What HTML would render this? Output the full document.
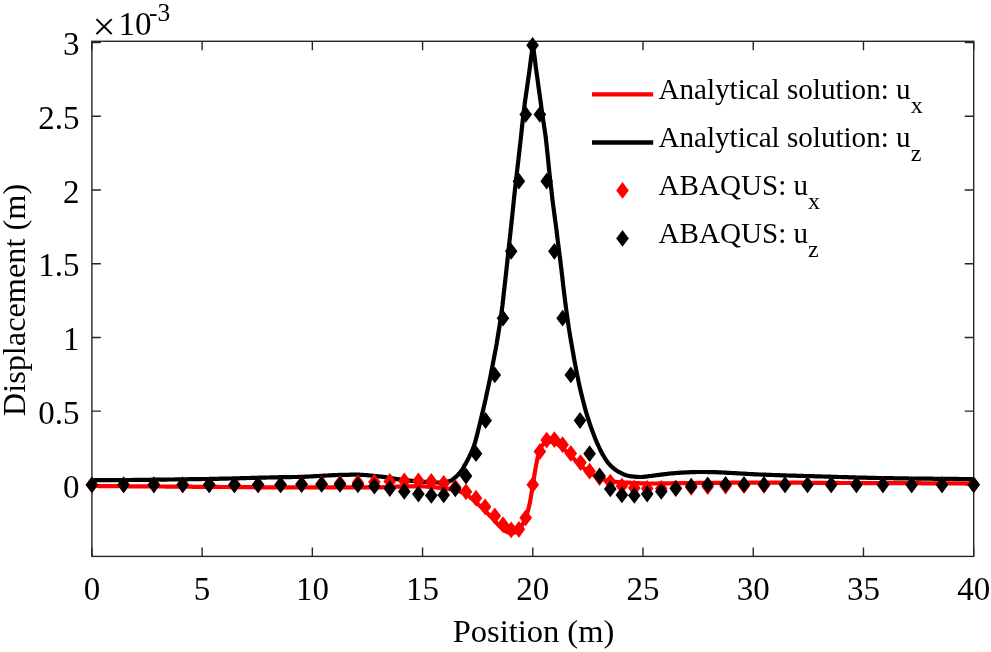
<!DOCTYPE html>
<html><head><meta charset="utf-8"><title>Displacement vs Position</title>
<style>
html,body{margin:0;padding:0;background:#fff;}
svg{display:block;}
text{font-family:"Liberation Serif",serif;fill:#000;}
</style></head><body>
<svg width="991" height="652" viewBox="0 0 991 652">
<rect width="991" height="652" fill="#fff"/>
<g fill="none" stroke="#262626" stroke-width="1.4">
<rect x="91.9" y="41.3" width="881.8" height="515.1"/>
<path d="M91.90,556.4v-9M91.90,41.3v9M202.12,556.4v-9M202.12,41.3v9M312.35,556.4v-9M312.35,41.3v9M422.58,556.4v-9M422.58,41.3v9M532.80,556.4v-9M532.80,41.3v9M643.02,556.4v-9M643.02,41.3v9M753.25,556.4v-9M753.25,41.3v9M863.48,556.4v-9M863.48,41.3v9M973.70,556.4v-9M973.70,41.3v9M91.9,484.90h9M973.7,484.90h-9M91.9,411.17h9M973.7,411.17h-9M91.9,337.45h9M973.7,337.45h-9M91.9,263.73h9M973.7,263.73h-9M91.9,190.00h9M973.7,190.00h-9M91.9,116.27h9M973.7,116.27h-9M91.9,42.55h9M973.7,42.55h-9"/>
</g>
<g font-size="33px"><text x="91.9" y="599.5" text-anchor="middle">0</text><text x="202.1" y="599.5" text-anchor="middle">5</text><text x="312.4" y="599.5" text-anchor="middle">10</text><text x="422.6" y="599.5" text-anchor="middle">15</text><text x="532.8" y="599.5" text-anchor="middle">20</text><text x="643.0" y="599.5" text-anchor="middle">25</text><text x="753.3" y="599.5" text-anchor="middle">30</text><text x="863.5" y="599.5" text-anchor="middle">35</text><text x="973.7" y="599.5" text-anchor="middle">40</text><text x="79.4" y="497.5" text-anchor="end">0</text><text x="79.4" y="423.8" text-anchor="end">0.5</text><text x="79.4" y="350.1" text-anchor="end">1</text><text x="79.4" y="276.3" text-anchor="end">1.5</text><text x="79.4" y="202.6" text-anchor="end">2</text><text x="79.4" y="128.9" text-anchor="end">2.5</text><text x="79.4" y="55.2" text-anchor="end">3</text></g>
<text x="92.4" y="40" font-size="41px">×</text>
<text x="118.4" y="34.8" font-size="33px">10<tspan dx="-2.3" dy="-14.3" font-size="25.5px">-3</tspan></text>
<text x="533.5" y="642.3" font-size="32.5px" text-anchor="middle">Position (m)</text>
<text transform="translate(24.7,300) rotate(-90)" font-size="32.3px" text-anchor="middle">Displacement (m)</text>
<clipPath id="ax"><rect x="91.9" y="41.3" width="881.8" height="515.1"/></clipPath>
<path clip-path="url(#ax)" d="M91.9,486.0 L92.9,486.0 L93.9,486.0 L94.8,486.0 L95.8,486.0 L96.8,486.0 L97.8,486.0 L98.8,486.1 L99.7,486.1 L100.7,486.1 L101.7,486.1 L102.7,486.1 L103.7,486.1 L104.7,486.1 L105.6,486.1 L106.6,486.1 L107.6,486.1 L108.6,486.1 L109.6,486.1 L110.5,486.1 L111.5,486.2 L112.5,486.2 L113.5,486.2 L114.5,486.2 L115.4,486.2 L116.4,486.2 L117.4,486.2 L118.4,486.2 L119.4,486.2 L120.3,486.2 L121.3,486.2 L122.3,486.2 L123.3,486.2 L124.3,486.2 L125.2,486.3 L126.2,486.3 L127.2,486.3 L128.2,486.3 L129.2,486.3 L130.2,486.3 L131.1,486.3 L132.1,486.3 L133.1,486.3 L134.1,486.3 L135.1,486.3 L136.0,486.3 L137.0,486.3 L138.0,486.4 L139.0,486.4 L140.0,486.4 L140.9,486.4 L141.9,486.4 L142.9,486.4 L143.9,486.4 L144.9,486.4 L145.8,486.4 L146.8,486.4 L147.8,486.4 L148.8,486.4 L149.8,486.4 L150.8,486.4 L151.7,486.5 L152.7,486.5 L153.7,486.5 L154.7,486.5 L155.7,486.5 L156.6,486.5 L157.6,486.5 L158.6,486.5 L159.6,486.5 L160.6,486.5 L161.5,486.5 L162.5,486.5 L163.5,486.5 L164.5,486.5 L165.5,486.6 L166.4,486.6 L167.4,486.6 L168.4,486.6 L169.4,486.6 L170.4,486.6 L171.4,486.6 L172.3,486.6 L173.3,486.6 L174.3,486.6 L175.3,486.6 L176.3,486.6 L177.2,486.6 L178.2,486.6 L179.2,486.7 L180.2,486.7 L181.2,486.7 L182.1,486.7 L183.1,486.7 L184.1,486.7 L185.1,486.7 L186.1,486.7 L187.0,486.7 L188.0,486.7 L189.0,486.7 L190.0,486.7 L191.0,486.7 L191.9,486.7 L192.9,486.8 L193.9,486.8 L194.9,486.8 L195.9,486.8 L196.9,486.8 L197.8,486.8 L198.8,486.8 L199.8,486.8 L200.8,486.8 L201.8,486.8 L202.7,486.8 L203.7,486.8 L204.7,486.8 L205.7,486.8 L206.7,486.8 L207.6,486.9 L208.6,486.9 L209.6,486.9 L210.6,486.9 L211.6,486.9 L212.5,486.9 L213.5,486.9 L214.5,486.9 L215.5,486.9 L216.5,486.9 L217.5,486.9 L218.4,486.9 L219.4,487.0 L220.4,487.0 L221.4,487.0 L222.4,487.0 L223.3,487.0 L224.3,487.0 L225.3,487.0 L226.3,487.0 L227.3,487.0 L228.2,487.0 L229.2,487.0 L230.2,487.1 L231.2,487.1 L232.2,487.1 L233.1,487.1 L234.1,487.1 L235.1,487.1 L236.1,487.1 L237.1,487.1 L238.0,487.1 L239.0,487.1 L240.0,487.1 L241.0,487.1 L242.0,487.2 L243.0,487.2 L243.9,487.2 L244.9,487.2 L245.9,487.2 L246.9,487.2 L247.9,487.2 L248.8,487.2 L249.8,487.2 L250.8,487.2 L251.8,487.2 L252.8,487.2 L253.7,487.2 L254.7,487.3 L255.7,487.3 L256.7,487.3 L257.7,487.3 L258.6,487.3 L259.6,487.3 L260.6,487.3 L261.6,487.3 L262.6,487.3 L263.6,487.3 L264.5,487.3 L265.5,487.3 L266.5,487.3 L267.5,487.3 L268.5,487.3 L269.4,487.3 L270.4,487.4 L271.4,487.4 L272.4,487.4 L273.4,487.4 L274.3,487.4 L275.3,487.4 L276.3,487.4 L277.3,487.4 L278.3,487.4 L279.2,487.4 L280.2,487.4 L281.2,487.4 L282.2,487.4 L283.2,487.4 L284.2,487.4 L285.1,487.4 L286.1,487.4 L287.1,487.4 L288.1,487.4 L289.1,487.4 L290.0,487.4 L291.0,487.4 L292.0,487.4 L293.0,487.4 L294.0,487.4 L294.9,487.4 L295.9,487.4 L296.9,487.4 L297.9,487.4 L298.9,487.4 L299.8,487.4 L300.8,487.4 L301.8,487.4 L302.8,487.4 L303.8,487.4 L304.7,487.4 L305.7,487.4 L306.7,487.4 L307.7,487.4 L308.7,487.4 L309.7,487.4 L310.6,487.4 L311.6,487.4 L312.6,487.4 L313.6,487.4 L314.6,487.4 L315.5,487.4 L316.5,487.4 L317.5,487.4 L318.5,487.4 L319.5,487.4 L320.4,487.4 L321.4,487.4 L322.4,487.4 L323.4,487.4 L324.4,487.4 L325.3,487.4 L326.3,487.4 L327.3,487.4 L328.3,487.4 L329.3,487.4 L330.3,487.4 L331.2,487.4 L332.2,487.4 L333.2,487.4 L334.2,487.4 L335.2,487.4 L336.1,487.4 L337.1,487.4 L338.1,487.4 L339.1,487.4 L340.1,487.4 L341.0,487.4 L342.0,487.4 L343.0,487.4 L344.0,487.4 L345.0,487.4 L345.9,487.4 L346.9,487.4 L347.9,487.4 L348.9,487.4 L349.9,487.4 L350.8,487.4 L351.8,487.4 L352.8,487.4 L353.8,487.4 L354.8,487.4 L355.8,487.4 L356.7,487.4 L357.7,487.4 L358.7,487.4 L359.7,487.4 L360.7,487.4 L361.6,487.4 L362.6,487.4 L363.6,487.4 L364.6,487.4 L365.6,487.4 L366.5,487.4 L367.5,487.4 L368.5,487.4 L369.5,487.4 L370.5,487.4 L371.4,487.4 L372.4,487.4 L373.4,487.4 L374.4,487.4 L375.4,487.4 L376.4,487.4 L377.3,487.4 L378.3,487.4 L379.3,487.3 L380.3,487.3 L381.3,487.3 L382.2,487.3 L383.2,487.2 L384.2,487.2 L385.2,487.2 L386.2,487.1 L387.1,487.1 L388.1,487.0 L389.1,487.0 L390.1,487.0 L391.1,486.9 L392.0,486.9 L393.0,486.8 L394.0,486.8 L395.0,486.8 L396.0,486.7 L396.9,486.7 L397.9,486.7 L398.9,486.6 L399.9,486.6 L400.9,486.6 L401.9,486.5 L402.8,486.5 L403.8,486.5 L404.8,486.5 L405.8,486.5 L406.8,486.5 L407.7,486.4 L408.7,486.4 L409.7,486.4 L410.7,486.4 L411.7,486.4 L412.6,486.4 L413.6,486.3 L414.6,486.3 L415.6,486.3 L416.6,486.3 L417.5,486.3 L418.5,486.3 L419.5,486.3 L420.5,486.3 L421.5,486.3 L422.5,486.4 L423.4,486.4 L424.4,486.5 L425.4,486.5 L426.4,486.6 L427.4,486.7 L428.3,486.8 L429.3,486.9 L430.3,486.9 L431.3,487.0 L432.3,487.1 L433.2,487.2 L434.2,487.3 L435.2,487.4 L436.2,487.5 L437.2,487.6 L438.1,487.7 L439.1,487.8 L440.1,487.9 L441.1,488.0 L442.1,488.1 L443.1,488.2 L444.0,488.3 L445.0,488.4 L446.0,488.6 L447.0,488.7 L448.0,488.8 L448.9,488.9 L449.9,489.1 L450.9,489.2 L451.9,489.4 L452.9,489.6 L453.8,489.8 L454.8,490.0 L455.8,490.2 L456.8,490.5 L457.8,490.8 L458.7,491.1 L459.7,491.5 L460.7,491.9 L461.7,492.3 L462.7,492.8 L463.6,493.2 L464.6,493.7 L465.6,494.3 L466.6,494.9 L467.6,495.5 L468.6,496.2 L469.5,496.9 L470.5,497.7 L471.5,498.5 L472.5,499.2 L473.5,500.0 L474.4,500.8 L475.4,501.7 L476.4,502.5 L477.4,503.4 L478.4,504.4 L479.3,505.3 L480.3,506.3 L481.3,507.2 L482.3,508.2 L483.3,509.2 L484.2,510.1 L485.2,511.1 L486.2,512.0 L487.2,513.0 L488.2,514.0 L489.2,515.0 L490.1,516.0 L491.1,517.0 L492.1,518.0 L493.1,519.0 L494.1,520.1 L495.0,521.2 L496.0,522.3 L497.0,523.4 L498.0,524.5 L499.0,525.5 L499.9,526.5 L500.9,527.4 L501.9,528.3 L502.9,529.2 L503.9,530.1 L504.8,530.8 L505.8,531.4 L506.8,531.9 L507.8,532.3 L508.8,532.7 L509.7,533.0 L510.7,533.2 L511.7,533.2 L512.7,533.1 L513.7,532.8 L514.7,532.5 L515.6,532.1 L516.6,531.7 L517.6,531.0 L518.6,530.2 L519.6,529.2 L520.5,527.8 L521.5,526.2 L522.5,524.4 L523.5,522.6 L524.5,520.6 L525.4,518.4 L526.4,515.8 L527.4,512.7 L528.4,509.2 L529.4,505.1 L530.3,500.3 L531.3,494.5 L532.3,488.4 L533.3,482.2 L534.3,475.6 L535.3,469.7 L536.2,464.6 L537.2,459.7 L538.2,455.4 L539.2,452.1 L540.2,449.7 L541.1,447.5 L542.1,445.6 L543.1,444.3 L544.1,443.5 L545.1,443.0 L546.0,442.5 L547.0,442.2 L548.0,442.0 L549.0,441.8 L550.0,441.8 L550.9,441.9 L551.9,442.0 L552.9,442.2 L553.9,442.5 L554.9,442.8 L555.9,443.2 L556.8,443.8 L557.8,444.4 L558.8,445.2 L559.8,445.9 L560.8,446.7 L561.7,447.5 L562.7,448.2 L563.7,449.0 L564.7,449.9 L565.7,450.8 L566.6,451.8 L567.6,452.7 L568.6,453.7 L569.6,454.6 L570.6,455.6 L571.5,456.5 L572.5,457.5 L573.5,458.5 L574.5,459.5 L575.5,460.5 L576.4,461.5 L577.4,462.4 L578.4,463.4 L579.4,464.3 L580.4,465.1 L581.4,466.0 L582.3,466.9 L583.3,467.7 L584.3,468.5 L585.3,469.3 L586.3,470.1 L587.2,470.8 L588.2,471.5 L589.2,472.2 L590.2,472.9 L591.2,473.5 L592.1,474.2 L593.1,474.8 L594.1,475.4 L595.1,476.0 L596.1,476.5 L597.0,477.0 L598.0,477.5 L599.0,477.9 L600.0,478.3 L601.0,478.7 L602.0,479.0 L602.9,479.4 L603.9,479.7 L604.9,480.0 L605.9,480.3 L606.9,480.6 L607.8,480.8 L608.8,481.0 L609.8,481.2 L610.8,481.3 L611.8,481.5 L612.7,481.6 L613.7,481.7 L614.7,481.8 L615.7,481.9 L616.7,482.0 L617.6,482.0 L618.6,482.1 L619.6,482.2 L620.6,482.2 L621.6,482.3 L622.5,482.4 L623.5,482.4 L624.5,482.5 L625.5,482.5 L626.5,482.6 L627.5,482.6 L628.4,482.7 L629.4,482.7 L630.4,482.8 L631.4,482.9 L632.4,482.9 L633.3,483.0 L634.3,483.0 L635.3,483.1 L636.3,483.1 L637.3,483.2 L638.2,483.2 L639.2,483.2 L640.2,483.3 L641.2,483.3 L642.2,483.4 L643.1,483.4 L644.1,483.4 L645.1,483.4 L646.1,483.5 L647.1,483.5 L648.1,483.5 L649.0,483.5 L650.0,483.5 L651.0,483.5 L652.0,483.5 L653.0,483.5 L653.9,483.5 L654.9,483.5 L655.9,483.5 L656.9,483.5 L657.9,483.5 L658.8,483.4 L659.8,483.4 L660.8,483.4 L661.8,483.4 L662.8,483.4 L663.7,483.4 L664.7,483.4 L665.7,483.4 L666.7,483.3 L667.7,483.3 L668.7,483.3 L669.6,483.3 L670.6,483.3 L671.6,483.3 L672.6,483.2 L673.6,483.2 L674.5,483.2 L675.5,483.2 L676.5,483.2 L677.5,483.2 L678.5,483.1 L679.4,483.1 L680.4,483.1 L681.4,483.1 L682.4,483.1 L683.4,483.1 L684.3,483.1 L685.3,483.0 L686.3,483.0 L687.3,483.0 L688.3,483.0 L689.2,483.0 L690.2,483.0 L691.2,483.0 L692.2,483.0 L693.2,483.0 L694.2,483.0 L695.1,483.0 L696.1,483.0 L697.1,482.9 L698.1,482.9 L699.1,482.9 L700.0,482.9 L701.0,482.9 L702.0,482.9 L703.0,482.9 L704.0,482.9 L704.9,482.9 L705.9,482.9 L706.9,482.9 L707.9,482.9 L708.9,482.8 L709.8,482.8 L710.8,482.8 L711.8,482.8 L712.8,482.8 L713.8,482.8 L714.8,482.8 L715.7,482.8 L716.7,482.8 L717.7,482.8 L718.7,482.8 L719.7,482.8 L720.6,482.8 L721.6,482.8 L722.6,482.7 L723.6,482.7 L724.6,482.7 L725.5,482.7 L726.5,482.7 L727.5,482.7 L728.5,482.7 L729.5,482.7 L730.4,482.7 L731.4,482.7 L732.4,482.7 L733.4,482.7 L734.4,482.7 L735.3,482.7 L736.3,482.7 L737.3,482.7 L738.3,482.7 L739.3,482.6 L740.3,482.6 L741.2,482.6 L742.2,482.6 L743.2,482.6 L744.2,482.6 L745.2,482.6 L746.1,482.6 L747.1,482.6 L748.1,482.6 L749.1,482.6 L750.1,482.6 L751.0,482.6 L752.0,482.6 L753.0,482.6 L754.0,482.6 L755.0,482.6 L755.9,482.6 L756.9,482.6 L757.9,482.6 L758.9,482.6 L759.9,482.6 L760.9,482.6 L761.8,482.6 L762.8,482.6 L763.8,482.6 L764.8,482.6 L765.8,482.6 L766.7,482.6 L767.7,482.6 L768.7,482.6 L769.7,482.6 L770.7,482.6 L771.6,482.6 L772.6,482.6 L773.6,482.6 L774.6,482.6 L775.6,482.6 L776.5,482.6 L777.5,482.6 L778.5,482.6 L779.5,482.6 L780.5,482.6 L781.4,482.6 L782.4,482.6 L783.4,482.7 L784.4,482.7 L785.4,482.7 L786.4,482.7 L787.3,482.7 L788.3,482.7 L789.3,482.7 L790.3,482.7 L791.3,482.7 L792.2,482.7 L793.2,482.7 L794.2,482.7 L795.2,482.7 L796.2,482.7 L797.1,482.7 L798.1,482.7 L799.1,482.7 L800.1,482.7 L801.1,482.7 L802.0,482.7 L803.0,482.7 L804.0,482.8 L805.0,482.8 L806.0,482.8 L807.0,482.8 L807.9,482.8 L808.9,482.8 L809.9,482.8 L810.9,482.8 L811.9,482.8 L812.8,482.8 L813.8,482.8 L814.8,482.8 L815.8,482.8 L816.8,482.8 L817.7,482.8 L818.7,482.8 L819.7,482.8 L820.7,482.9 L821.7,482.9 L822.6,482.9 L823.6,482.9 L824.6,482.9 L825.6,482.9 L826.6,482.9 L827.6,482.9 L828.5,482.9 L829.5,482.9 L830.5,482.9 L831.5,482.9 L832.5,482.9 L833.4,482.9 L834.4,482.9 L835.4,482.9 L836.4,482.9 L837.4,482.9 L838.3,482.9 L839.3,483.0 L840.3,483.0 L841.3,483.0 L842.3,483.0 L843.2,483.0 L844.2,483.0 L845.2,483.0 L846.2,483.0 L847.2,483.0 L848.1,483.0 L849.1,483.0 L850.1,483.0 L851.1,483.0 L852.1,483.0 L853.1,483.0 L854.0,483.0 L855.0,483.0 L856.0,483.0 L857.0,483.0 L858.0,483.0 L858.9,483.0 L859.9,483.0 L860.9,483.0 L861.9,483.0 L862.9,483.0 L863.8,483.1 L864.8,483.1 L865.8,483.1 L866.8,483.1 L867.8,483.1 L868.7,483.1 L869.7,483.1 L870.7,483.1 L871.7,483.1 L872.7,483.1 L873.7,483.1 L874.6,483.1 L875.6,483.1 L876.6,483.1 L877.6,483.1 L878.6,483.1 L879.5,483.1 L880.5,483.1 L881.5,483.1 L882.5,483.1 L883.5,483.1 L884.4,483.1 L885.4,483.1 L886.4,483.1 L887.4,483.1 L888.4,483.1 L889.3,483.1 L890.3,483.1 L891.3,483.1 L892.3,483.2 L893.3,483.2 L894.2,483.2 L895.2,483.2 L896.2,483.2 L897.2,483.2 L898.2,483.2 L899.2,483.2 L900.1,483.2 L901.1,483.2 L902.1,483.2 L903.1,483.2 L904.1,483.2 L905.0,483.2 L906.0,483.2 L907.0,483.2 L908.0,483.2 L909.0,483.2 L909.9,483.2 L910.9,483.2 L911.9,483.2 L912.9,483.2 L913.9,483.2 L914.8,483.2 L915.8,483.2 L916.8,483.2 L917.8,483.2 L918.8,483.2 L919.8,483.2 L920.7,483.2 L921.7,483.3 L922.7,483.3 L923.7,483.3 L924.7,483.3 L925.6,483.3 L926.6,483.3 L927.6,483.3 L928.6,483.3 L929.6,483.3 L930.5,483.3 L931.5,483.3 L932.5,483.3 L933.5,483.3 L934.5,483.3 L935.4,483.3 L936.4,483.3 L937.4,483.3 L938.4,483.3 L939.4,483.3 L940.4,483.3 L941.3,483.3 L942.3,483.3 L943.3,483.3 L944.3,483.3 L945.3,483.3 L946.2,483.3 L947.2,483.3 L948.2,483.3 L949.2,483.3 L950.2,483.3 L951.1,483.3 L952.1,483.3 L953.1,483.3 L954.1,483.3 L955.1,483.4 L956.0,483.4 L957.0,483.4 L958.0,483.4 L959.0,483.4 L960.0,483.4 L960.9,483.4 L961.9,483.4 L962.9,483.4 L963.9,483.4 L964.9,483.4 L965.9,483.4 L966.8,483.4 L967.8,483.4 L968.8,483.4 L969.8,483.4 L970.8,483.4 L971.7,483.4 L972.7,483.4 L973.7,483.4" fill="none" stroke="#ff0000" stroke-width="4.2" stroke-linejoin="round"/>
<path clip-path="url(#ax)" d="M91.9,480.2 L92.9,480.2 L93.9,480.2 L94.8,480.2 L95.8,480.2 L96.8,480.2 L97.8,480.2 L98.8,480.2 L99.8,480.2 L100.7,480.2 L101.7,480.2 L102.7,480.2 L103.7,480.2 L104.7,480.2 L105.7,480.1 L106.6,480.1 L107.6,480.1 L108.6,480.1 L109.6,480.1 L110.6,480.1 L111.5,480.1 L112.5,480.1 L113.5,480.1 L114.5,480.1 L115.5,480.1 L116.5,480.1 L117.4,480.1 L118.4,480.1 L119.4,480.1 L120.4,480.1 L121.4,480.0 L122.3,480.0 L123.3,480.0 L124.3,480.0 L125.3,480.0 L126.3,480.0 L127.3,480.0 L128.2,480.0 L129.2,480.0 L130.2,480.0 L131.2,480.0 L132.2,480.0 L133.2,479.9 L134.1,479.9 L135.1,479.9 L136.1,479.9 L137.1,479.9 L138.1,479.9 L139.0,479.9 L140.0,479.9 L141.0,479.9 L142.0,479.9 L143.0,479.8 L144.0,479.8 L144.9,479.8 L145.9,479.8 L146.9,479.8 L147.9,479.8 L148.9,479.8 L149.8,479.8 L150.8,479.8 L151.8,479.7 L152.8,479.7 L153.8,479.7 L154.8,479.7 L155.7,479.7 L156.7,479.7 L157.7,479.7 L158.7,479.7 L159.7,479.6 L160.7,479.6 L161.6,479.6 L162.6,479.6 L163.6,479.6 L164.6,479.6 L165.6,479.6 L166.5,479.6 L167.5,479.5 L168.5,479.5 L169.5,479.5 L170.5,479.5 L171.5,479.5 L172.4,479.5 L173.4,479.5 L174.4,479.5 L175.4,479.4 L176.4,479.4 L177.3,479.4 L178.3,479.4 L179.3,479.4 L180.3,479.4 L181.3,479.4 L182.3,479.3 L183.2,479.3 L184.2,479.3 L185.2,479.3 L186.2,479.3 L187.2,479.3 L188.2,479.3 L189.1,479.2 L190.1,479.2 L191.1,479.2 L192.1,479.2 L193.1,479.2 L194.0,479.2 L195.0,479.2 L196.0,479.1 L197.0,479.1 L198.0,479.1 L199.0,479.1 L199.9,479.1 L200.9,479.1 L201.9,479.1 L202.9,479.0 L203.9,479.0 L204.9,479.0 L205.8,479.0 L206.8,479.0 L207.8,479.0 L208.8,479.0 L209.8,478.9 L210.7,478.9 L211.7,478.9 L212.7,478.9 L213.7,478.9 L214.7,478.8 L215.7,478.8 L216.6,478.8 L217.6,478.8 L218.6,478.8 L219.6,478.7 L220.6,478.7 L221.5,478.7 L222.5,478.7 L223.5,478.7 L224.5,478.6 L225.5,478.6 L226.5,478.6 L227.4,478.6 L228.4,478.5 L229.4,478.5 L230.4,478.5 L231.4,478.5 L232.4,478.4 L233.3,478.4 L234.3,478.4 L235.3,478.4 L236.3,478.3 L237.3,478.3 L238.2,478.3 L239.2,478.3 L240.2,478.2 L241.2,478.2 L242.2,478.2 L243.2,478.2 L244.1,478.1 L245.1,478.1 L246.1,478.1 L247.1,478.0 L248.1,478.0 L249.0,478.0 L250.0,478.0 L251.0,477.9 L252.0,477.9 L253.0,477.9 L254.0,477.9 L254.9,477.8 L255.9,477.8 L256.9,477.8 L257.9,477.8 L258.9,477.7 L259.9,477.7 L260.8,477.7 L261.8,477.7 L262.8,477.6 L263.8,477.6 L264.8,477.6 L265.7,477.6 L266.7,477.5 L267.7,477.5 L268.7,477.5 L269.7,477.5 L270.7,477.4 L271.6,477.4 L272.6,477.4 L273.6,477.4 L274.6,477.3 L275.6,477.3 L276.6,477.3 L277.5,477.3 L278.5,477.3 L279.5,477.2 L280.5,477.2 L281.5,477.2 L282.4,477.2 L283.4,477.2 L284.4,477.2 L285.4,477.1 L286.4,477.1 L287.4,477.1 L288.3,477.1 L289.3,477.1 L290.3,477.1 L291.3,477.1 L292.3,477.0 L293.2,477.0 L294.2,477.0 L295.2,477.0 L296.2,477.0 L297.2,477.0 L298.2,476.9 L299.1,476.9 L300.1,476.9 L301.1,476.9 L302.1,476.8 L303.1,476.8 L304.1,476.8 L305.0,476.7 L306.0,476.7 L307.0,476.6 L308.0,476.6 L309.0,476.5 L309.9,476.5 L310.9,476.4 L311.9,476.4 L312.9,476.3 L313.9,476.2 L314.9,476.2 L315.8,476.1 L316.8,476.1 L317.8,476.0 L318.8,476.0 L319.8,475.9 L320.7,475.9 L321.7,475.8 L322.7,475.8 L323.7,475.7 L324.7,475.7 L325.7,475.6 L326.6,475.5 L327.6,475.5 L328.6,475.4 L329.6,475.4 L330.6,475.3 L331.6,475.3 L332.5,475.2 L333.5,475.2 L334.5,475.1 L335.5,475.1 L336.5,475.0 L337.4,475.0 L338.4,474.9 L339.4,474.9 L340.4,474.9 L341.4,474.9 L342.4,474.9 L343.3,474.8 L344.3,474.8 L345.3,474.8 L346.3,474.8 L347.3,474.8 L348.2,474.8 L349.2,474.8 L350.2,474.7 L351.2,474.7 L352.2,474.7 L353.2,474.7 L354.1,474.7 L355.1,474.7 L356.1,474.7 L357.1,474.7 L358.1,474.7 L359.1,474.7 L360.0,474.8 L361.0,474.8 L362.0,474.8 L363.0,474.9 L364.0,475.0 L364.9,475.0 L365.9,475.1 L366.9,475.2 L367.9,475.3 L368.9,475.4 L369.9,475.5 L370.8,475.6 L371.8,475.7 L372.8,475.8 L373.8,475.9 L374.8,476.0 L375.8,476.1 L376.7,476.2 L377.7,476.3 L378.7,476.4 L379.7,476.5 L380.7,476.6 L381.6,476.7 L382.6,476.8 L383.6,476.9 L384.6,477.1 L385.6,477.2 L386.6,477.4 L387.5,477.5 L388.5,477.7 L389.5,477.8 L390.5,478.0 L391.5,478.2 L392.4,478.3 L393.4,478.5 L394.4,478.7 L395.4,478.8 L396.4,479.0 L397.4,479.1 L398.3,479.3 L399.3,479.4 L400.3,479.5 L401.3,479.6 L402.3,479.8 L403.3,479.9 L404.2,480.0 L405.2,480.1 L406.2,480.2 L407.2,480.3 L408.2,480.4 L409.1,480.5 L410.1,480.6 L411.1,480.8 L412.1,480.8 L413.1,480.9 L414.1,481.0 L415.0,481.1 L416.0,481.2 L417.0,481.3 L418.0,481.4 L419.0,481.5 L419.9,481.5 L420.9,481.6 L421.9,481.7 L422.9,481.7 L423.9,481.8 L424.9,481.9 L425.8,481.9 L426.8,482.0 L427.8,482.1 L428.8,482.1 L429.8,482.2 L430.8,482.2 L431.7,482.3 L432.7,482.4 L433.7,482.4 L434.7,482.4 L435.7,482.5 L436.6,482.5 L437.6,482.5 L438.6,482.6 L439.6,482.6 L440.6,482.6 L441.6,482.6 L442.5,482.6 L443.5,482.5 L444.5,482.3 L445.5,482.1 L446.5,481.9 L447.5,481.7 L448.4,481.4 L449.4,481.2 L450.4,480.8 L451.4,480.3 L452.4,479.7 L453.3,479.0 L454.3,478.3 L455.3,477.4 L456.3,476.5 L457.3,475.5 L458.3,474.5 L459.2,473.5 L460.2,472.4 L461.2,471.1 L462.2,469.6 L463.2,468.0 L464.1,466.4 L465.1,464.6 L466.1,462.8 L467.1,461.0 L468.1,459.1 L469.1,457.2 L470.0,455.2 L471.0,453.1 L472.0,450.8 L473.0,448.4 L474.0,445.7 L475.0,442.6 L475.9,439.2 L476.9,435.5 L477.9,431.6 L478.9,427.6 L479.9,423.5 L480.8,419.5 L481.8,415.4 L482.8,411.3 L483.8,407.1 L484.8,402.8 L485.8,398.4 L486.7,394.0 L487.7,389.4 L488.7,384.7 L489.7,380.0 L490.7,375.1 L491.6,370.1 L492.6,365.1 L493.6,360.1 L494.6,354.9 L495.6,349.6 L496.6,344.1 L497.5,338.4 L498.5,332.4 L499.5,326.2 L500.5,319.7 L501.5,312.6 L502.5,305.0 L503.4,296.7 L504.4,288.1 L505.4,279.1 L506.4,270.0 L507.4,261.0 L508.3,252.0 L509.3,243.0 L510.3,233.8 L511.3,224.5 L512.3,215.1 L513.3,205.8 L514.2,196.5 L515.2,187.4 L516.2,178.5 L517.2,170.0 L518.2,161.6 L519.1,153.3 L520.1,144.8 L521.1,135.8 L522.1,126.2 L523.1,116.9 L524.1,108.8 L525.0,101.5 L526.0,94.6 L527.0,87.8 L528.0,80.8 L529.0,73.6 L530.0,66.4 L530.9,59.1 L531.9,51.8 L532.9,44.5 L533.9,52.0 L534.9,59.5 L535.8,66.9 L536.8,74.3 L537.8,81.5 L538.8,88.8 L539.8,95.9 L540.8,103.1 L541.7,110.1 L542.7,117.0 L543.7,123.5 L544.7,130.0 L545.7,137.1 L546.6,145.2 L547.6,154.7 L548.6,164.7 L549.6,174.6 L550.6,183.6 L551.6,191.9 L552.5,199.9 L553.5,207.7 L554.5,215.3 L555.5,222.8 L556.5,230.2 L557.4,237.7 L558.4,245.4 L559.4,253.2 L560.4,261.3 L561.4,269.6 L562.4,278.0 L563.3,286.4 L564.3,294.6 L565.3,302.6 L566.3,310.2 L567.3,317.2 L568.2,323.8 L569.2,330.2 L570.2,336.3 L571.2,342.2 L572.2,348.0 L573.2,353.5 L574.1,358.9 L575.1,364.2 L576.1,369.3 L577.1,374.3 L578.1,379.2 L579.0,383.8 L580.0,388.3 L581.0,392.5 L582.0,396.6 L583.0,400.5 L584.0,404.2 L584.9,407.9 L585.9,411.4 L586.9,414.8 L587.9,418.0 L588.9,421.0 L589.8,424.0 L590.8,426.8 L591.8,429.6 L592.8,432.2 L593.8,434.8 L594.7,437.3 L595.7,439.7 L596.7,442.1 L597.7,444.3 L598.7,446.5 L599.7,448.6 L600.6,450.6 L601.6,452.5 L602.6,454.4 L603.6,456.0 L604.6,457.6 L605.5,459.2 L606.5,460.6 L607.5,462.0 L608.5,463.3 L609.5,464.4 L610.5,465.5 L611.4,466.4 L612.4,467.3 L613.4,468.2 L614.4,469.0 L615.4,469.7 L616.3,470.4 L617.3,471.1 L618.3,471.7 L619.3,472.2 L620.3,472.7 L621.3,473.2 L622.2,473.6 L623.2,474.1 L624.2,474.5 L625.2,474.9 L626.2,475.2 L627.1,475.5 L628.1,475.8 L629.1,476.0 L630.1,476.2 L631.1,476.3 L632.1,476.4 L633.0,476.5 L634.0,476.6 L635.0,476.7 L636.0,476.8 L637.0,476.9 L637.9,476.9 L638.9,477.0 L639.9,477.0 L640.9,477.0 L641.9,477.0 L642.9,476.9 L643.8,476.8 L644.8,476.7 L645.8,476.6 L646.8,476.5 L647.8,476.3 L648.7,476.2 L649.7,476.1 L650.7,476.0 L651.7,475.9 L652.7,475.7 L653.7,475.6 L654.6,475.5 L655.6,475.3 L656.6,475.2 L657.6,475.1 L658.6,474.9 L659.5,474.8 L660.5,474.7 L661.5,474.6 L662.5,474.4 L663.5,474.3 L664.5,474.2 L665.4,474.1 L666.4,474.0 L667.4,473.8 L668.4,473.7 L669.4,473.6 L670.3,473.5 L671.3,473.4 L672.3,473.3 L673.3,473.3 L674.3,473.2 L675.3,473.1 L676.2,473.0 L677.2,472.9 L678.2,472.9 L679.2,472.8 L680.2,472.7 L681.1,472.7 L682.1,472.6 L683.1,472.6 L684.1,472.5 L685.1,472.4 L686.1,472.4 L687.0,472.3 L688.0,472.3 L689.0,472.3 L690.0,472.2 L691.0,472.2 L691.9,472.2 L692.9,472.1 L693.9,472.1 L694.9,472.1 L695.9,472.1 L696.9,472.0 L697.8,472.0 L698.8,472.0 L699.8,472.0 L700.8,472.0 L701.8,472.0 L702.7,472.0 L703.7,472.0 L704.7,472.0 L705.7,472.0 L706.7,472.0 L707.6,472.1 L708.6,472.1 L709.6,472.1 L710.6,472.1 L711.6,472.1 L712.6,472.2 L713.5,472.2 L714.5,472.2 L715.5,472.2 L716.5,472.2 L717.5,472.3 L718.4,472.3 L719.4,472.3 L720.4,472.4 L721.4,472.4 L722.4,472.5 L723.4,472.5 L724.3,472.6 L725.3,472.7 L726.3,472.7 L727.3,472.8 L728.3,472.8 L729.2,472.9 L730.2,472.9 L731.2,473.0 L732.2,473.0 L733.2,473.1 L734.2,473.1 L735.1,473.2 L736.1,473.2 L737.1,473.3 L738.1,473.4 L739.1,473.4 L740.0,473.5 L741.0,473.5 L742.0,473.6 L743.0,473.6 L744.0,473.7 L745.0,473.7 L745.9,473.8 L746.9,473.9 L747.9,473.9 L748.9,474.0 L749.9,474.0 L750.8,474.1 L751.8,474.1 L752.8,474.2 L753.8,474.2 L754.8,474.3 L755.8,474.3 L756.7,474.4 L757.7,474.4 L758.7,474.5 L759.7,474.5 L760.7,474.5 L761.6,474.6 L762.6,474.6 L763.6,474.7 L764.6,474.7 L765.6,474.7 L766.6,474.8 L767.5,474.8 L768.5,474.8 L769.5,474.9 L770.5,474.9 L771.5,474.9 L772.4,475.0 L773.4,475.0 L774.4,475.1 L775.4,475.1 L776.4,475.1 L777.4,475.2 L778.3,475.2 L779.3,475.2 L780.3,475.3 L781.3,475.3 L782.3,475.3 L783.2,475.4 L784.2,475.4 L785.2,475.4 L786.2,475.4 L787.2,475.5 L788.2,475.5 L789.1,475.5 L790.1,475.6 L791.1,475.6 L792.1,475.6 L793.1,475.7 L794.0,475.7 L795.0,475.7 L796.0,475.7 L797.0,475.8 L798.0,475.8 L799.0,475.8 L799.9,475.9 L800.9,475.9 L801.9,475.9 L802.9,475.9 L803.9,476.0 L804.8,476.0 L805.8,476.0 L806.8,476.1 L807.8,476.1 L808.8,476.1 L809.7,476.1 L810.7,476.2 L811.7,476.2 L812.7,476.2 L813.7,476.2 L814.7,476.3 L815.6,476.3 L816.6,476.3 L817.6,476.4 L818.6,476.4 L819.6,476.4 L820.5,476.4 L821.5,476.5 L822.5,476.5 L823.5,476.5 L824.5,476.6 L825.5,476.6 L826.4,476.6 L827.4,476.6 L828.4,476.7 L829.4,476.7 L830.4,476.7 L831.3,476.8 L832.3,476.8 L833.3,476.8 L834.3,476.8 L835.3,476.9 L836.3,476.9 L837.2,476.9 L838.2,477.0 L839.2,477.0 L840.2,477.0 L841.2,477.0 L842.1,477.1 L843.1,477.1 L844.1,477.1 L845.1,477.2 L846.1,477.2 L847.1,477.2 L848.0,477.2 L849.0,477.3 L850.0,477.3 L851.0,477.3 L852.0,477.4 L852.9,477.4 L853.9,477.4 L854.9,477.4 L855.9,477.5 L856.9,477.5 L857.9,477.5 L858.8,477.5 L859.8,477.6 L860.8,477.6 L861.8,477.6 L862.8,477.6 L863.7,477.7 L864.7,477.7 L865.7,477.7 L866.7,477.7 L867.7,477.8 L868.7,477.8 L869.6,477.8 L870.6,477.8 L871.6,477.9 L872.6,477.9 L873.6,477.9 L874.5,477.9 L875.5,477.9 L876.5,478.0 L877.5,478.0 L878.5,478.0 L879.5,478.0 L880.4,478.0 L881.4,478.1 L882.4,478.1 L883.4,478.1 L884.4,478.1 L885.3,478.1 L886.3,478.1 L887.3,478.2 L888.3,478.2 L889.3,478.2 L890.3,478.2 L891.2,478.2 L892.2,478.2 L893.2,478.2 L894.2,478.3 L895.2,478.3 L896.1,478.3 L897.1,478.3 L898.1,478.3 L899.1,478.3 L900.1,478.3 L901.1,478.4 L902.0,478.4 L903.0,478.4 L904.0,478.4 L905.0,478.4 L906.0,478.4 L906.9,478.4 L907.9,478.4 L908.9,478.5 L909.9,478.5 L910.9,478.5 L911.9,478.5 L912.8,478.5 L913.8,478.5 L914.8,478.5 L915.8,478.5 L916.8,478.6 L917.7,478.6 L918.7,478.6 L919.7,478.6 L920.7,478.6 L921.7,478.6 L922.6,478.6 L923.6,478.6 L924.6,478.7 L925.6,478.7 L926.6,478.7 L927.6,478.7 L928.5,478.7 L929.5,478.7 L930.5,478.7 L931.5,478.7 L932.5,478.7 L933.4,478.8 L934.4,478.8 L935.4,478.8 L936.4,478.8 L937.4,478.8 L938.4,478.8 L939.3,478.8 L940.3,478.8 L941.3,478.8 L942.3,478.8 L943.3,478.8 L944.2,478.9 L945.2,478.9 L946.2,478.9 L947.2,478.9 L948.2,478.9 L949.2,478.9 L950.1,478.9 L951.1,478.9 L952.1,478.9 L953.1,478.9 L954.1,478.9 L955.0,478.9 L956.0,478.9 L957.0,478.9 L958.0,478.9 L959.0,479.0 L960.0,479.0 L960.9,479.0 L961.9,479.0 L962.9,479.0 L963.9,479.0 L964.9,479.0 L965.8,479.0 L966.8,479.0 L967.8,479.0 L968.8,479.0 L969.8,479.0 L970.8,479.0 L971.7,479.0 L972.7,479.0 L973.7,479.0" fill="none" stroke="#000" stroke-width="4.2" stroke-linejoin="miter" stroke-miterlimit="10"/>
<path d="M91.9,476.4L98.2,484.8L91.9,493.2L85.6,484.8ZM123.6,476.4L129.9,484.8L123.6,493.2L117.3,484.8ZM153.9,476.4L160.2,484.8L153.9,493.2L147.6,484.8ZM182.7,476.4L189.0,484.8L182.7,493.2L176.4,484.8ZM209.2,476.4L215.5,484.8L209.2,493.2L202.9,484.8ZM234.4,476.4L240.7,484.8L234.4,493.2L228.1,484.8ZM258.1,476.4L264.4,484.8L258.1,493.2L251.8,484.8ZM280.6,476.4L286.9,484.8L280.6,493.2L274.3,484.8ZM301.6,475.7L307.9,484.1L301.6,492.5L295.3,484.1ZM321.6,475.3L327.9,483.7L321.6,492.1L315.3,483.7ZM340.0,474.9L346.3,483.3L340.0,491.7L333.7,483.3ZM357.9,474.3L364.2,482.7L357.9,491.1L351.6,482.7ZM374.4,473.6L380.7,482.0L374.4,490.4L368.1,482.0ZM389.8,473.0L396.1,481.4L389.8,489.8L383.5,481.4ZM404.3,472.6L410.6,481.0L404.3,489.4L398.0,481.0ZM418.4,472.6L424.7,481.0L418.4,489.4L412.1,481.0ZM431.3,473.0L437.6,481.4L431.3,489.8L425.0,481.4ZM443.7,474.9L450.0,483.3L443.7,491.7L437.4,483.3ZM455.3,478.9L461.6,487.3L455.3,495.7L449.0,487.3ZM466.0,483.4L472.3,491.8L466.0,500.2L459.7,491.8ZM476.0,489.8L482.3,498.2L476.0,506.6L469.7,498.2ZM485.1,498.4L491.4,506.8L485.1,515.2L478.8,506.8ZM494.8,507.6L501.1,516.0L494.8,524.4L488.5,516.0ZM503.0,516.3L509.3,524.7L503.0,533.1L496.7,524.7ZM511.2,521.4L517.5,529.8L511.2,538.2L504.9,529.8ZM518.9,520.9L525.2,529.3L518.9,537.7L512.6,529.3ZM525.7,509.4L532.0,517.8L525.7,526.2L519.4,517.8ZM532.8,476.3L539.1,484.7L532.8,493.1L526.5,484.7ZM539.9,443.2L546.2,451.6L539.9,460.0L533.6,451.6ZM546.7,431.7L553.0,440.1L546.7,448.5L540.4,440.1ZM554.4,431.2L560.7,439.6L554.4,448.0L548.1,439.6ZM562.6,436.3L568.9,444.7L562.6,453.1L556.3,444.7ZM570.8,445.0L577.1,453.4L570.8,461.8L564.5,453.4ZM580.5,454.2L586.8,462.6L580.5,471.0L574.2,462.6ZM589.6,462.8L595.9,471.2L589.6,479.6L583.3,471.2ZM599.6,469.2L605.9,477.6L599.6,486.0L593.3,477.6ZM610.3,473.7L616.6,482.1L610.3,490.5L604.0,482.1ZM621.9,477.7L628.2,486.1L621.9,494.5L615.6,486.1ZM634.3,479.6L640.6,488.0L634.3,496.4L628.0,488.0ZM647.2,480.0L653.5,488.4L647.2,496.8L640.9,488.4ZM661.3,480.0L667.6,488.4L661.3,496.8L655.0,488.4ZM675.8,479.6L682.1,488.0L675.8,496.4L669.5,488.0ZM691.2,479.0L697.5,487.4L691.2,495.8L684.9,487.4ZM707.7,478.3L714.0,486.7L707.7,495.1L701.4,486.7ZM725.6,477.7L731.9,486.1L725.6,494.5L719.3,486.1ZM744.0,477.3L750.3,485.7L744.0,494.1L737.7,485.7ZM764.0,476.9L770.3,485.3L764.0,493.7L757.7,485.3ZM785.0,476.2L791.3,484.6L785.0,493.0L778.7,484.6ZM807.5,476.2L813.8,484.6L807.5,493.0L801.2,484.6ZM831.2,476.2L837.5,484.6L831.2,493.0L824.9,484.6ZM856.4,476.2L862.7,484.6L856.4,493.0L850.1,484.6ZM882.9,476.2L889.2,484.6L882.9,493.0L876.6,484.6ZM911.7,476.2L918.0,484.6L911.7,493.0L905.4,484.6ZM942.0,476.2L948.3,484.6L942.0,493.0L935.7,484.6ZM973.7,476.2L980.0,484.6L973.7,493.0L967.4,484.6Z" fill="#ff0000"/>
<path d="M91.9,476.4L98.2,484.8L91.9,493.2L85.6,484.8ZM123.6,476.4L129.9,484.8L123.6,493.2L117.3,484.8ZM153.9,476.4L160.2,484.8L153.9,493.2L147.6,484.8ZM182.7,476.4L189.0,484.8L182.7,493.2L176.4,484.8ZM209.2,476.4L215.5,484.8L209.2,493.2L202.9,484.8ZM234.4,476.4L240.7,484.8L234.4,493.2L228.1,484.8ZM258.1,476.4L264.4,484.8L258.1,493.2L251.8,484.8ZM280.6,476.4L286.9,484.8L280.6,493.2L274.3,484.8ZM301.6,476.1L307.9,484.5L301.6,492.9L295.3,484.5ZM321.6,476.0L327.9,484.4L321.6,492.8L315.3,484.4ZM340.0,476.0L346.3,484.4L340.0,492.8L333.7,484.4ZM357.9,476.4L364.2,484.8L357.9,493.2L351.6,484.8ZM374.4,477.8L380.7,486.2L374.4,494.6L368.1,486.2ZM389.8,480.2L396.1,488.6L389.8,497.0L383.5,488.6ZM404.3,483.0L410.6,491.4L404.3,499.8L398.0,491.4ZM418.4,485.6L424.7,494.0L418.4,502.4L412.1,494.0ZM431.3,487.0L437.6,495.4L431.3,503.8L425.0,495.4ZM443.7,486.5L450.0,494.9L443.7,503.3L437.4,494.9ZM455.3,480.5L461.6,488.9L455.3,497.3L449.0,488.9ZM466.0,467.6L472.3,476.0L466.0,484.4L459.7,476.0ZM476.0,445.3L482.3,453.7L476.0,462.1L469.7,453.7ZM485.6,412.1L491.9,420.5L485.6,428.9L479.3,420.5ZM494.8,366.5L501.1,374.9L494.8,383.3L488.5,374.9ZM503.0,309.8L509.3,318.2L503.0,326.6L496.7,318.2ZM511.2,242.9L517.5,251.3L511.2,259.7L504.9,251.3ZM518.9,172.8L525.2,181.2L518.9,189.6L512.6,181.2ZM525.7,106.0L532.0,114.4L525.7,122.8L519.4,114.4ZM532.6,36.9L538.9,45.3L532.6,53.7L526.3,45.3ZM539.9,106.0L546.2,114.4L539.9,122.8L533.6,114.4ZM546.7,172.8L553.0,181.2L546.7,189.6L540.4,181.2ZM554.4,242.9L560.7,251.3L554.4,259.7L548.1,251.3ZM562.6,309.8L568.9,318.2L562.6,326.6L556.3,318.2ZM570.8,366.5L577.1,374.9L570.8,383.3L564.5,374.9ZM580.0,412.1L586.3,420.5L580.0,428.9L573.7,420.5ZM589.6,445.3L595.9,453.7L589.6,462.1L583.3,453.7ZM599.6,467.6L605.9,476.0L599.6,484.4L593.3,476.0ZM610.3,480.5L616.6,488.9L610.3,497.3L604.0,488.9ZM621.9,486.5L628.2,494.9L621.9,503.3L615.6,494.9ZM634.3,487.0L640.6,495.4L634.3,503.8L628.0,495.4ZM647.2,485.6L653.5,494.0L647.2,502.4L640.9,494.0ZM661.3,483.0L667.6,491.4L661.3,499.8L655.0,491.4ZM675.8,480.2L682.1,488.6L675.8,497.0L669.5,488.6ZM691.2,477.8L697.5,486.2L691.2,494.6L684.9,486.2ZM707.7,476.4L714.0,484.8L707.7,493.2L701.4,484.8ZM725.6,476.0L731.9,484.4L725.6,492.8L719.3,484.4ZM744.0,476.0L750.3,484.4L744.0,492.8L737.7,484.4ZM764.0,476.1L770.3,484.5L764.0,492.9L757.7,484.5ZM785.0,476.4L791.3,484.8L785.0,493.2L778.7,484.8ZM807.5,476.4L813.8,484.8L807.5,493.2L801.2,484.8ZM831.2,476.4L837.5,484.8L831.2,493.2L824.9,484.8ZM856.4,476.4L862.7,484.8L856.4,493.2L850.1,484.8ZM882.9,476.4L889.2,484.8L882.9,493.2L876.6,484.8ZM911.7,476.4L918.0,484.8L911.7,493.2L905.4,484.8ZM942.0,476.4L948.3,484.8L942.0,493.2L935.7,484.8ZM973.7,476.4L980.0,484.8L973.7,493.2L967.4,484.8Z" fill="#000"/>
<g>
<path d="M592,94.4H653.2" stroke="#ff0000" stroke-width="4.3"/>
<path d="M592,142.5H653.2" stroke="#000" stroke-width="4.3"/>
<path d="M622.5,182.0L628.8,190.4L622.5,198.8L616.2,190.4Z" fill="#ff0000"/>
<path d="M622.5,230.0L628.8,238.4L622.5,246.8L616.2,238.4Z" fill="#000"/>
<g font-size="29.1px">
<text x="658.5" y="99.1">Analytical solution: u<tspan dy="14" font-size="24px">x</tspan></text>
<text x="658.5" y="147.1">Analytical solution: u<tspan dy="14" font-size="24px">z</tspan></text>
<text x="658.5" y="195.3">ABAQUS: u<tspan dy="14" font-size="24px">x</tspan></text>
<text x="658.5" y="243.1">ABAQUS: u<tspan dy="14" font-size="24px">z</tspan></text>
</g>
</g>
</svg>
</body></html>
